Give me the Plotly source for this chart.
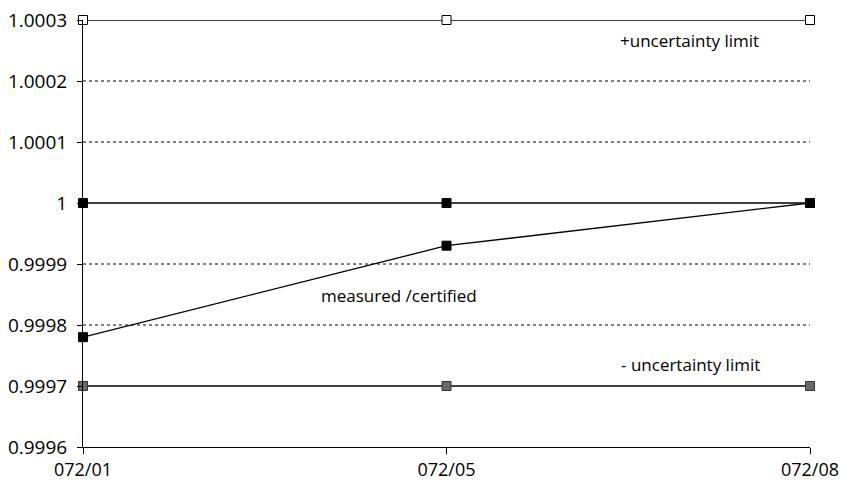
import plotly.graph_objects as go

categories = ["072/01", "072/05", "072/08"]
upper_limit = [1.0003, 1.0003, 1.0003]
reference = [1.0, 1.0, 1.0]
measured = [0.99978, 0.99993, 1.0]
lower_limit = [0.9997, 0.9997, 0.9997]

y_ticks = [0.9996, 0.9997, 0.9998, 0.9999, 1.0, 1.0001, 1.0002, 1.0003]
y_tick_labels = ["0.9996", "0.9997", "0.9998", "0.9999", "1", "1.0001", "1.0002", "1.0003"]

font_family = "Open Sans, Lato, sans-serif"

fig = go.Figure()

def add_series(y, fill, line_col="black"):
    fig.add_trace(go.Scatter(
        x=categories, y=y, mode="lines+markers",
        line=dict(color="black", width=1.3),
        marker=dict(symbol="square", size=9, color=fill,
                    line=dict(color=line_col, width=1)),
        cliponaxis=False, showlegend=False,
    ))

add_series(upper_limit, "white")
add_series(reference, "black")
add_series(measured, "black")
add_series(lower_limit, "#6a6a6a", "#333333")

# dotted gridlines
for v in [0.9998, 0.9999, 1.0001, 1.0002]:
    fig.add_shape(type="line", xref="paper", x0=0, x1=1, yref="y", y0=v, y1=v,
                  line=dict(color="black", width=1, dash="dot"), layer="below")

ann_font = dict(size=17, color="black", family=font_family)
fig.add_annotation(x=0.834, xref="paper", y=1.000266, yref="y", text="+uncertainty limit",
                   showarrow=False, xanchor="center", yanchor="middle", font=ann_font)
fig.add_annotation(x=0.435, xref="paper", y=0.999848, yref="y", text="measured /certified",
                   showarrow=False, xanchor="center", yanchor="middle", font=ann_font)
fig.add_annotation(x=0.835, xref="paper", y=0.999736, yref="y", text="- uncertainty limit",
                   showarrow=False, xanchor="center", yanchor="middle", font=ann_font)

fig.update_layout(
    width=841, height=490,
    margin=dict(l=83, r=31, t=20, b=43, autoexpand=False),
    paper_bgcolor="white", plot_bgcolor="white",
    font=dict(family=font_family, size=19, color="black"),
    hovermode=False,
    xaxis=dict(type="category", range=[0, 2], showgrid=False, showline=True,
               linecolor="black", linewidth=1, ticks="outside", ticklen=6,
               tickcolor="black", zeroline=False, tickfont=dict(size=18),
               automargin=False, ticklabeloverflow="allow"),
    yaxis=dict(range=[0.9996, 1.0003], tickvals=y_ticks, ticktext=y_tick_labels,
               showgrid=False, showline=True, linecolor="black", linewidth=1,
               ticks="outside", ticklen=5, tickcolor="black", zeroline=False,
               tickfont=dict(size=19), automargin=False, ticklabelstandoff=6,
               ticklabeloverflow="allow"),
)

# remove the browser's default 8px body margin so the figure fills the window
fig.write_html("out.html", config={"displayModeBar": False},
               post_script="document.body.style.margin='0';document.body.style.overflow='hidden';")
